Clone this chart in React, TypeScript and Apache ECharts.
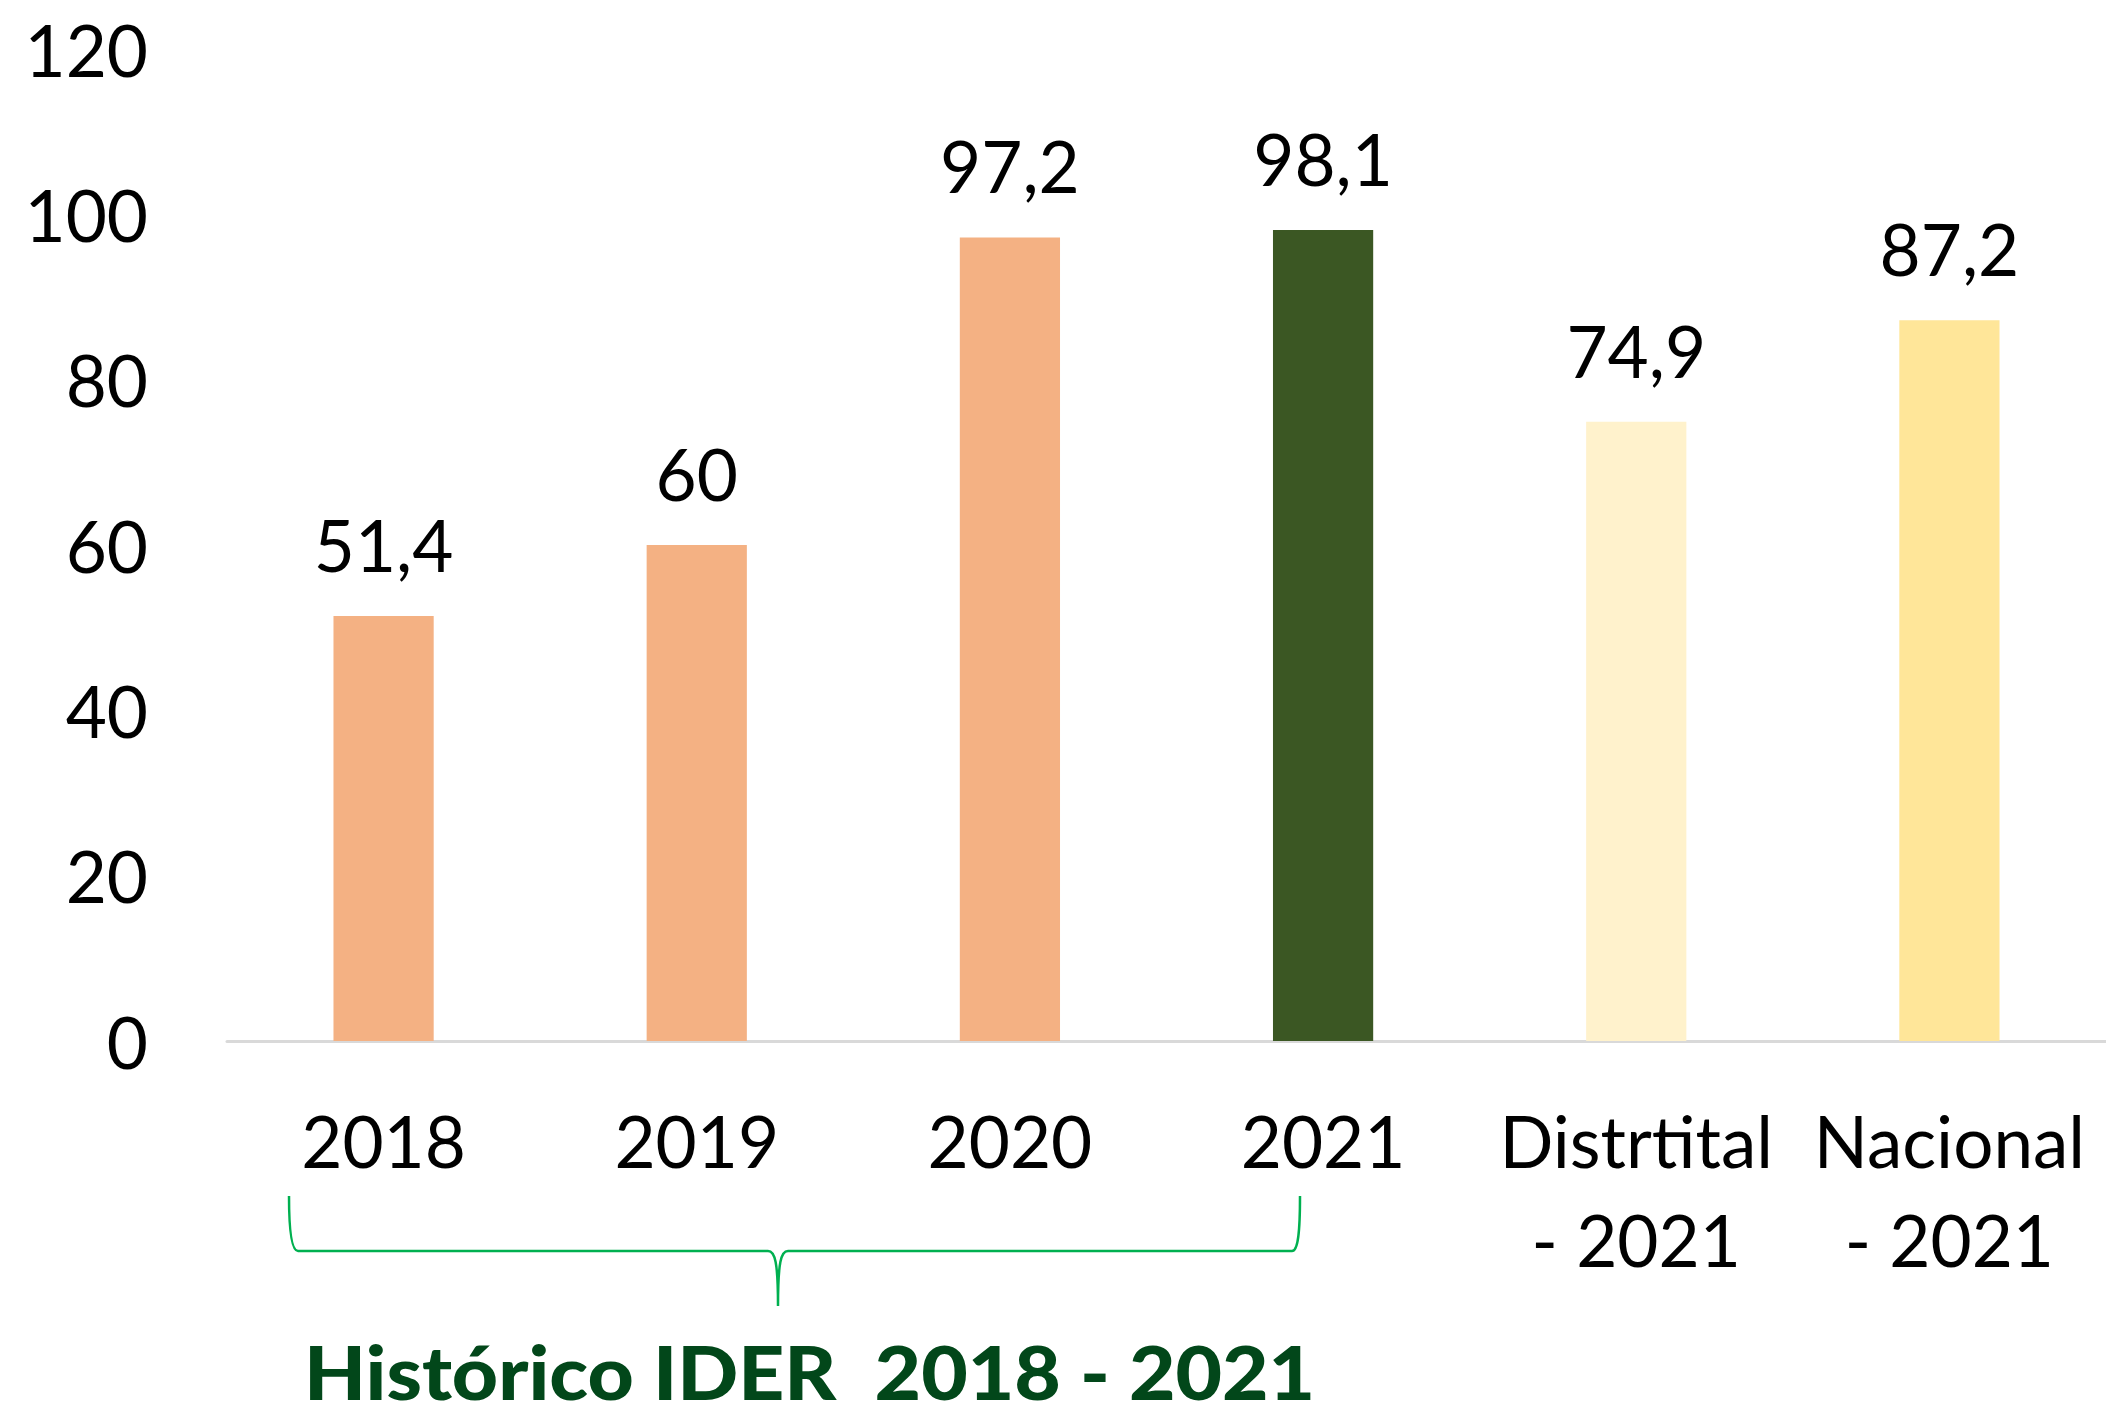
import React, { useEffect, useRef } from "react";
import * as echarts from "echarts";

const categories = ["2018", "2019", "2020", "2021", "Distrtital\n- 2021", "Nacional\n- 2021"];
const values = [51.4, 60, 97.2, 98.1, 74.9, 87.2];
const barColors = ["#F4B183", "#F4B183", "#F4B183", "#3B5723", "#FFF2CC", "#FFE699"];
const yTicks = { min: 0, max: 120, interval: 20 };
const titleText = "Histórico IDER  2018 - 2021";

const bracePath =
  "M289,1196 C289,1232 292,1251 298,1251 L768,1251 C775,1251 778,1262 778,1306 C778,1262 781,1251 788,1251 L1292,1251 C1298,1251 1300,1232 1300,1196";

echarts.graphic.registerShape("brace", echarts.graphic.extendPath(bracePath, {}));

export default function App() {
  const ref = useRef<HTMLDivElement>(null);
  useEffect(() => {
    if (!ref.current) return;
    const chart = echarts.init(ref.current, null, { renderer: "svg" });
    const font = "Lato, 'Open Sans', sans-serif";
    chart.setOption({
      animation: false,
      backgroundColor: "#ffffff",
      grid: { left: 227, right: 0, top: 49, bottom: 374, containLabel: false },
      xAxis: {
        type: "category",
        data: categories,
        axisLine: { show: true, lineStyle: { color: "#D9D9D9", width: 3 } },
        axisTick: { show: false },
        axisLabel: {
          interval: 0,
          margin: 50,
          color: "#000000",
          fontFamily: font,
          fontSize: 71,
          lineHeight: 99,
          verticalAlign: "top",
        },
      },
      yAxis: {
        type: "value",
        min: yTicks.min,
        max: yTicks.max,
        interval: yTicks.interval,
        axisLine: { show: false },
        axisTick: { show: false },
        splitLine: { show: false },
        axisLabel: {
          margin: 79,
          color: "#000000",
          fontFamily: font,
          fontSize: 71,
        },
      },
      series: [
        {
          type: "bar",
          barWidth: "32%",
          data: values.map((v, i) => ({ value: v, itemStyle: { color: barColors[i] } })),
          label: {
            show: true,
            position: "top",
            distance: 36,
            color: "#000000",
            fontFamily: font,
            fontSize: 71,
            formatter: (p: any) => String(p.value).replace(".", ","),
          },
        },
      ],
      graphic: [
        {
          type: "brace",
          x: 0,
          y: 0,
          silent: true,
          style: { stroke: "#00B050", lineWidth: 2.5, fill: "none" },
        },
        {
          type: "text",
          x: 304,
          y: 1371,
          scaleX: 1.085,
          silent: true,
          style: {
            text: titleText,
            fill: "#02471A",
            fontFamily: font,
            fontWeight: 900,
            fontSize: 74,
            lineHeight: 56,
            verticalAlign: "middle",
            align: "left",
          },
        },
      ],
    });
    return () => chart.dispose();
  }, []);
  return (
    <div
      ref={ref}
      style={{ position: "fixed", left: 0, top: 0, width: 2106, height: 1415 }}
    />
  );
}
